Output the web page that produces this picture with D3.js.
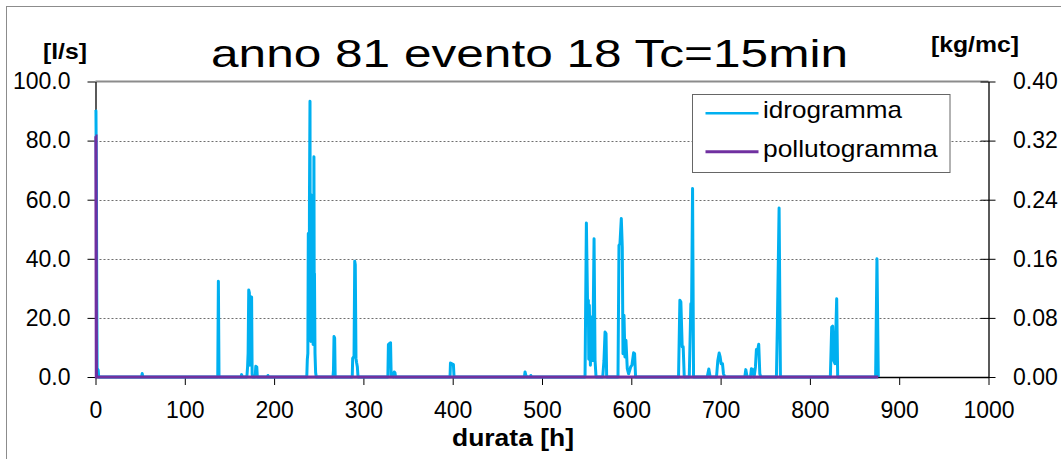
<!DOCTYPE html>
<html>
<head>
<meta charset="utf-8">
<script src="https://cdn.jsdelivr.net/npm/d3@7/dist/d3.min.js"></script>
<style>
  html, body { margin: 0; padding: 0; background: #fff; }
  svg { display: block; }
  text { font-family: "Liberation Sans", Arial, sans-serif; fill: #000; }
</style>
</head>
<body>
<svg id="chart" width="1061" height="459"></svg>
<script>
// Portata (l/s) in funzione della durata (ore)
const idrogramma = [
  [0, 90.4], [0.5, 90], [1, 67], [1.4, 30], [1.8, 3], [3, 2.3], [3.6, 0],
  [51.6, 0], [52.3, 1.2], [53, 0],
  [136.9, 0], [137.6, 32.4], [138.3, 0],
  [163, 0], [163.6, 0.8], [164.3, 0],
  [169.5, 0], [170.3, 3.4], [170.9, 8], [171.6, 29.4], [172.3, 28.5], [172.8, 4], [173.4, 27.2], [174.8, 27], [175.4, 1], [176, 0],
  [178.8, 0], [179.5, 3.6], [180.6, 3.4], [181.2, 0],
  [192.5, 0], [193.1, 0.5], [193.8, 0],
  [236.6, 0], [237.2, 6], [237.8, 8], [238.3, 48.6], [238.7, 20], [239, 35], [239.3, 14], [239.6, 60], [240.2, 93.3], [240.5, 30], [240.7, 45], [241.2, 12], [241.5, 35], [241.7, 14], [242, 40], [242.3, 61.5], [242.6, 15], [242.8, 30], [243.1, 12], [243.4, 48], [243.7, 11], [244, 50], [244.3, 20], [244.6, 74.5], [245, 15], [245.2, 35], [245.8, 8], [246.5, 1.5], [247.2, 0],
  [265.9, 0], [266.5, 2.3], [267.1, 13.7], [267.8, 13.2], [268.4, 0],
  [287.5, 0], [288, 6.3], [289.5, 7], [290.3, 39.2], [290.9, 38], [291.7, 6.3], [292.3, 5], [293.2, 3.5], [294, 0],
  [327.4, 0], [328, 11], [329, 11.3], [330.4, 11.6], [331.1, 0.5], [333.6, 0], [334.5, 1.7], [335.3, 1.5], [336, 0],
  [397, 0], [397.5, 4.7], [399, 4.5], [400.8, 4.2], [401.5, 0],
  [480.3, 0], [481, 1.7], [482, 0.5], [482.6, 0], [487, 0], [487.5, 0.5], [488.2, 0],
  [548.2, 0], [549.7, 52.1], [551.2, 21], [551.9, 26], [552.4, 6], [553, 24.3], [554.2, 4], [555.3, 20.3], [556.8, 5.6], [558.3, 46.8], [559.4, 5.6], [560.5, 0],
  [568, 0], [569.4, 5.6], [570.6, 15.2], [571.7, 14.7], [572.4, 0],
  [585.1, 0], [586.2, 44.6], [587.3, 45.1], [588.8, 53.6], [589.9, 44], [590.7, 7.9], [591.8, 20.9], [592.9, 6.8], [594, 12.4], [595.5, 2.8], [597, 1.1], [599.3, 3.4], [600.7, 4], [602.6, 8.2], [603.7, 7.9], [604.8, 0],
  [652.9, 0], [654.4, 26], [655.5, 25.4], [657, 10.2], [658.1, 10.2], [659.3, 0],
  [664.9, 0], [666.7, 24.8], [667.5, 22.6], [668.6, 63.8], [669.7, 0],
  [685, 0], [686.8, 2.7], [688.3, 0],
  [695.4, 0], [696.9, 5.6], [698.4, 8.1], [699.5, 6.8], [700.6, 4.5], [702.1, 4.5], [703.2, 1.1], [704.7, 0],
  [727.1, 0], [728.2, 2.5], [729.7, 0], [733.5, 0], [734.5, 2.8], [736, 2.5], [737.5, 0], [739, 3.4], [740.1, 9.3], [741.3, 8.8], [742.7, 11.1], [743.9, 1.1], [745, 0],
  [762.5, 0], [763.6, 18], [765.5, 57.2], [767, 0],
  [822.9, 0], [824.4, 16.9], [825.5, 17.2], [826.6, 5.6], [828.1, 4.5], [830, 26.5], [831.1, 0],
  [873.6, 0], [875.1, 40], [876.6, 0]
];

// Concentrazione (kg/mc) in funzione della durata (ore)
const pollutogramma = [
  [0, 0.326], [0.5, 0.326], [1, 0], [876.6, 0]
];

const tickOre = [0, 100, 200, 300, 400, 500, 600, 700, 800, 900, 1000];
const tickPortata = [0, 20, 40, 60, 80, 100];
const tickConc = [0, 0.08, 0.16, 0.24, 0.32, 0.40];

const titolo = "anno 81 evento 18 Tc=15min";
const serie = [
  { nome: "idrogramma", colore: "#00B0F0" },
  { nome: "pollutogramma", colore: "#7030A0" }
];

const svg = d3.select("#chart");
const area = { left: 95.5, right: 988.5, top: 81.5, bottom: 377 };

const x = d3.scaleLinear().domain([0, 1000]).range([area.left, area.right]);
const yQ = d3.scaleLinear().domain([0, 100]).range([area.bottom, area.top]);
const yC = d3.scaleLinear().domain([0, 0.4]).range([area.bottom, area.top]);

// cornice esterna del grafico
svg.append("rect")
  .attr("x", 6.5).attr("y", 6.5).attr("width", 1200).attr("height", 600)
  .attr("fill", "none").attr("stroke", "#8c8c8c").attr("stroke-width", 1);

// griglia orizzontale tratteggiata
svg.append("g").selectAll("line")
  .data(tickPortata.filter(d => d > 0 && d < 100))
  .join("line")
  .attr("x1", area.left).attr("x2", area.right)
  .attr("y1", d => Math.round(yQ(d)) + 0.5).attr("y2", d => Math.round(yQ(d)) + 0.5)
  .attr("stroke", "#6e6e6e").attr("stroke-width", 1).attr("stroke-dasharray", "2,2");

// bordo superiore dell'area del grafico
svg.append("line")
  .attr("x1", area.left).attr("x2", area.right).attr("y1", area.top).attr("y2", area.top)
  .attr("stroke", "#8c8c8c").attr("stroke-width", 2);

// asse sinistro (portata)
const axL = svg.append("g").attr("transform", `translate(${area.left},0)`)
  .call(d3.axisLeft(yQ).tickValues(tickPortata).tickFormat(d3.format(".1f"))
    .tickSize(8).tickSizeOuter(0).tickPadding(17));

// asse destro (concentrazione), tacche a cavallo dell'asse
const axR = svg.append("g").attr("transform", `translate(${area.right},0)`)
  .call(d3.axisRight(yC).tickValues(tickConc).tickFormat(d3.format(".2f"))
    .tickSize(7).tickSizeOuter(0).tickPadding(17.5));
axR.selectAll(".tick line").attr("x1", -8).attr("x2", 7);

// asse orizzontale (durata)
const axB = svg.append("g").attr("transform", `translate(0,${area.bottom})`)
  .call(d3.axisBottom(x).tickValues(tickOre).tickFormat(d3.format("d"))
    .tickSize(8).tickSizeOuter(0).tickPadding(16.5));

[axL, axR, axB].forEach(g => {
  g.selectAll(".domain").attr("stroke", "#000").attr("stroke-width", 1.3);
  g.selectAll(".tick line").attr("stroke", "#000").attr("stroke-width", 1);
  g.selectAll(".tick text")
    .attr("font-family", '"Liberation Sans", Arial, sans-serif')
    .attr("font-size", 23).attr("fill", "#000");
});

// curve
const lineaQ = d3.line().x(d => x(d[0])).y(d => yQ(d[1]));
const lineaC = d3.line().x(d => x(d[0])).y(d => yC(d[1]));

svg.append("path").datum(idrogramma)
  .attr("d", lineaQ).attr("fill", "none")
  .attr("stroke", serie[0].colore).attr("stroke-width", 3)
  .attr("stroke-linejoin", "round");

svg.append("path").datum(pollutogramma)
  .attr("d", lineaC).attr("fill", "none")
  .attr("stroke", serie[1].colore).attr("stroke-width", 3.2)
  .attr("stroke-linejoin", "miter");

// titolo e unità di misura
svg.append("text").text(titolo)
  .attr("x", 211).attr("y", 66.5)
  .attr("font-size", 39)
  .attr("textLength", 637).attr("lengthAdjust", "spacingAndGlyphs");

svg.append("text").text("[l/s]")
  .attr("x", 43).attr("y", 58.5)
  .attr("font-size", 22).attr("font-weight", "bold")
  .attr("textLength", 44).attr("lengthAdjust", "spacingAndGlyphs");

svg.append("text").text("[kg/mc]")
  .attr("x", 931).attr("y", 52)
  .attr("font-size", 22).attr("font-weight", "bold")
  .attr("textLength", 88).attr("lengthAdjust", "spacingAndGlyphs");

svg.append("text").text("durata [h]")
  .attr("x", 452).attr("y", 446)
  .attr("font-size", 23).attr("font-weight", "bold")
  .attr("textLength", 122).attr("lengthAdjust", "spacingAndGlyphs");

// legenda
const leg = svg.append("g");
leg.append("rect")
  .attr("x", 692.5).attr("y", 94.5).attr("width", 257.5).attr("height", 78)
  .attr("fill", "#fff").attr("stroke", "#666").attr("stroke-width", 1);

const larghezze = [139, 174.6];
serie.forEach((s, i) => {
  const yy = 113.3 + i * 38.4;
  leg.append("line")
    .attr("x1", 705.5).attr("x2", 758.5).attr("y1", yy).attr("y2", yy)
    .attr("stroke", s.colore).attr("stroke-width", i === 0 ? 2.6 : 3);
  leg.append("text").text(s.nome)
    .attr("x", 763).attr("y", yy + 5)
    .attr("font-size", 24)
    .attr("textLength", larghezze[i]).attr("lengthAdjust", "spacingAndGlyphs");
});
</script>
</body>
</html>
